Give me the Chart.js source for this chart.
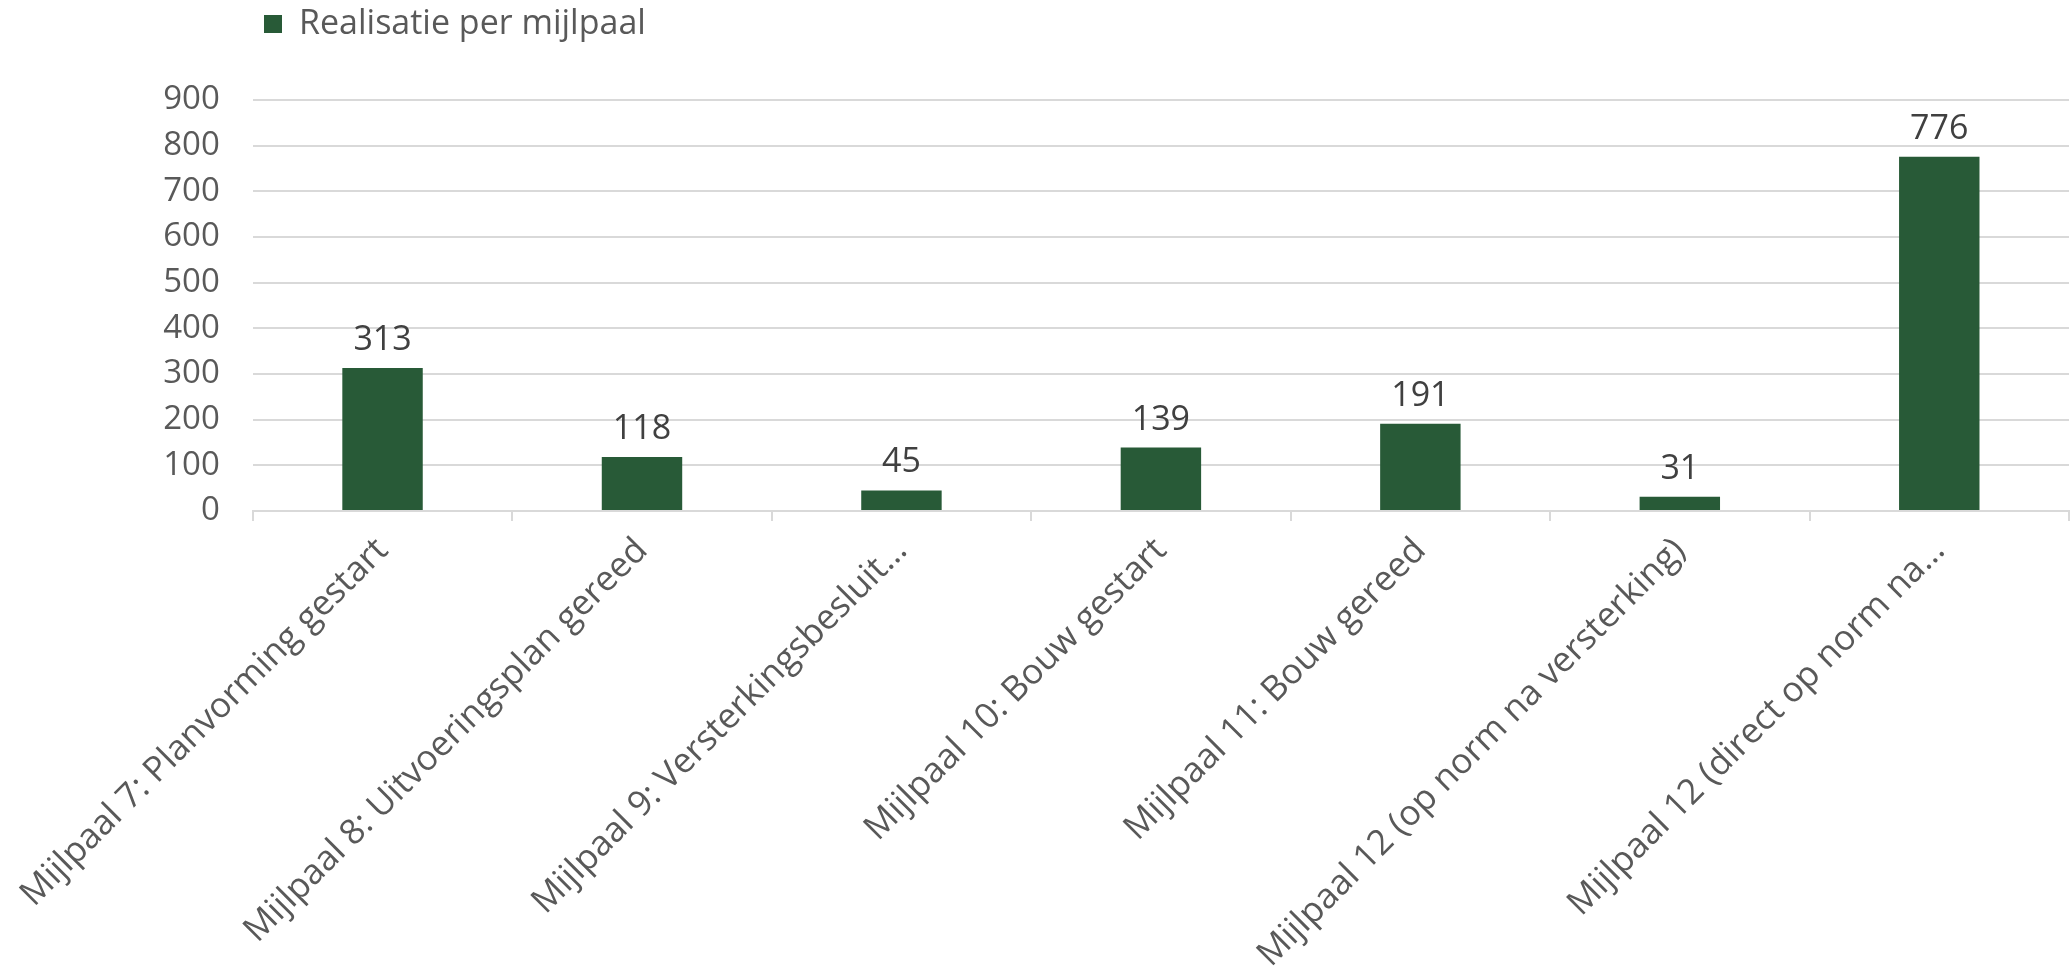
<!DOCTYPE html>
<html>
<head>
<meta charset="utf-8">
<script src="https://cdn.jsdelivr.net/npm/chart.js@4.4.1/dist/chart.umd.min.js"></script>
<style>
  html, body { margin: 0; padding: 0; background: #fff; }
  #wrap { width: 2072px; height: 975px; position: relative; }
</style>
</head>
<body>
<div id="wrap"><canvas id="milestoneChart"></canvas></div>
<script>
// data
const categories = [
  "Mijlpaal 7: Planvorming gestart",
  "Mijlpaal 8: Uitvoeringsplan gereed",
  "Mijlpaal 9: Versterkingsbesluit…",
  "Mijlpaal 10: Bouw gestart",
  "Mijlpaal 11: Bouw gereed",
  "Mijlpaal 12 (op norm na versterking)",
  "Mijlpaal 12 (direct op norm na…"
];
const realisatie = [313, 118, 45, 139, 191, 31, 776];
const yTicks = [0, 100, 200, 300, 400, 500, 600, 700, 800, 900];

const fontFamily = '"Open Sans", "Noto Sans", sans-serif';
const barColor = "#285a37";
const gridColor = "#d9d9d9";

// values above the bars
const valueLabels = {
  id: "valueLabels",
  afterDatasetsDraw(chart) {
    const ctx = chart.ctx;
    const meta = chart.getDatasetMeta(0);
    ctx.save();
    ctx.font = "34px " + fontFamily;
    ctx.fillStyle = "#404040";
    ctx.textAlign = "center";
    ctx.textBaseline = "alphabetic";
    meta.data.forEach((bar, i) => {
      ctx.fillText(String(realisatie[i]), bar.x, bar.y - 18);
    });
    ctx.restore();
  }
};

// legend sits top left, above the plot (like the excel original)
const legendShift = {
  id: "legendShift",
  afterLayout(chart) {
    chart.legend.left = 257;
    chart.legend.top = 0;
  }
};

new Chart(document.getElementById("milestoneChart"), {
  type: "bar",
  data: {
    labels: categories,
    datasets: [{
      label: "Realisatie per mijlpaal",
      data: realisatie,
      backgroundColor: barColor,
      borderWidth: 0,
      barPercentage: 0.31,
      categoryPercentage: 1
    }]
  },
  options: {
    responsive: true,
    maintainAspectRatio: false,
    animation: false,
    layout: {
      padding: { top: 49, right: 3, bottom: 0, left: 0 }
    },
    plugins: {
      tooltip: { enabled: false },
      legend: {
        display: true,
        position: "top",
        align: "start",
        labels: {
          boxWidth: 18,
          boxHeight: 18,
          padding: 7,
          color: "#595959",
          font: { family: fontFamily, size: 34 }
        }
      }
    },
    scales: {
      x: {
        offset: true,
        grid: {
          offset: true,
          drawOnChartArea: false,
          drawTicks: true,
          tickLength: 10,
          color: gridColor,
          lineWidth: 2
        },
        border: { display: true, color: gridColor, width: 2 },
        ticks: {
          autoSkip: false,
          minRotation: 45,
          maxRotation: 45,
          padding: 9,
          color: "#595959",
          font: { family: fontFamily, size: 35 }
        },
        afterFit: (scale) => { scale.height = 464; }
      },
      y: {
        min: yTicks[0],
        max: yTicks[yTicks.length - 1],
        afterBuildTicks: (scale) => { scale.ticks = yTicks.map(v => ({ value: v })); },
        grid: {
          color: gridColor,
          lineWidth: 2,
          drawTicks: false
        },
        border: { display: false },
        ticks: {
          padding: 33,
          color: "#595959",
          font: { family: fontFamily, size: 33 }
        },
        afterFit: (scale) => { scale.width = 250; }
      }
    }
  },
  plugins: [valueLabels, legendShift]
});
</script>
</body>
</html>
